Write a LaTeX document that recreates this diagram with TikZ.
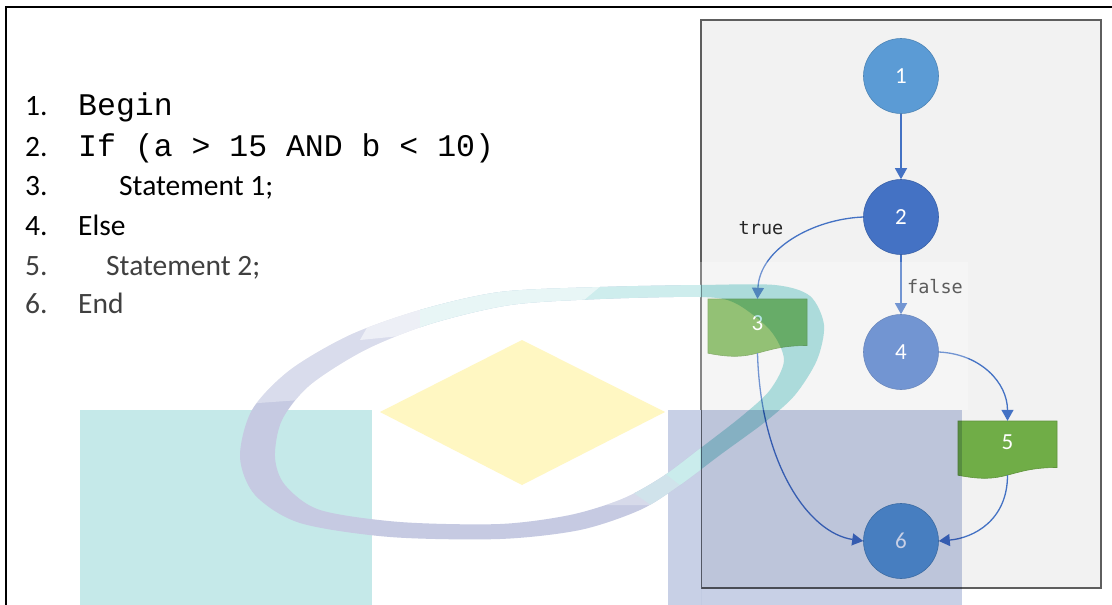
\documentclass[tikz,border=0pt]{standalone}
\usepackage{fontspec}
\setmainfont{Carlito}
\newfontfamily\courfnt{Liberation Mono}
\newfontfamily\codefnt{DejaVu Sans Mono}
\usetikzlibrary{arrows.meta}
\definecolor{flowblue}{HTML}{4472C4}
\definecolor{lightblue}{HTML}{5B9BD5}
\definecolor{docgreen}{HTML}{70AD47}
\definecolor{boxgray}{HTML}{F2F2F2}
\definecolor{boxedge}{HTML}{5E5E5E}
\definecolor{wmteal}{HTML}{C5E9E9}
\definecolor{wmblue}{HTML}{C8D0E6}
\definecolor{wmyellow}{HTML}{FFF7C2}
\definecolor{wmlav}{HTML}{C6CAE2}
\definecolor{wmring}{HTML}{B4E4E4}
\definecolor{txtgray}{HTML}{404040}
\newcommand\lstfnt{\fontsize{29.5}{31}\selectfont}
\newcommand\numfnt{\fontsize{23}{23}\selectfont}
\begin{document}
\begin{tikzpicture}[x=1pt,y=-1pt,
  circ/.style={circle, minimum size=75pt, inner sep=0pt, text=white, font=\numfnt, fill=#1, draw=#1!85!black, line width=0.6pt},
  docbox/.style={rectangle, minimum width=99pt, minimum height=54pt, inner sep=0pt, draw=none},
  doclabel/.style={inner sep=0pt, text=white, font=\numfnt},
  flowarrow/.style={draw=flowblue, line width=1.3pt, -{Triangle[length=11pt,width=12pt]}},
  lst/.style={anchor=base west, inner sep=0pt, font=\lstfnt},
  lstcode/.style={anchor=base west, inner sep=0pt, font=\courfnt\fontsize{31.5}{32}\selectfont},
  edgelabel/.style={inner sep=0pt, font=\codefnt\fontsize{18.5}{20}\selectfont, text=black!85},
  ringpath/.style={insert path={
    plot[smooth cycle] coordinates {(240,457) (252,410) (290,370) (350,335) (420,310) (500,292) (600,287) (700,285) (775,285) (810,296) (824,325) (817,360) (795,395) (765,422) (720,455) (680,485) (640,510) (580,530) (500,539) (390,537) (300,523) (255,495)}
    plot[smooth cycle] coordinates {(275,457) (282,420) (310,385) (365,350) (430,324) (510,305) (600,299) (700,297) (735,303) (770,330) (784,360) (770,390) (742,416) (702,447) (662,477) (622,499) (570,515) (500,524) (400,522) (320,510) (285,485)}
  }}
]
\useasboundingbox (0,0) rectangle (1112,605);
\fill[white] (0,0) rectangle (1112,605);
% outer frame
\draw[line width=2pt] (6,606) -- (6,7) -- (1113,7);

% listing
\node[lst] (n1) at (25,115) {1.};
\node[lstcode] (c1) at (78,115) {Begin};
\node[lst] (n2) at (25,156) {2.};
\node[lstcode] (c2) at (78,156) {If (a > 15 AND b < 10)};
\node[lst] (n3) at (25,195) {3.};
\node[lst] (c3) at (119,195) {Statement 1;};
\node[lst] (n4) at (25,235) {4.};
\node[lst] (c4) at (78,235) {Else};
\node[lst, text=txtgray] (n5) at (25,275) {5.};
\node[lst, text=txtgray] (c5) at (106,275) {Statement 2;};
\node[lst, text=txtgray] (n6) at (25,313) {6.};
\node[lst, text=txtgray] (c6) at (78,313) {End};

% flow box
\draw[fill=boxgray, draw=boxedge, line width=2.5pt] (701,20) rectangle (1101,588);

% document shapes
\fill[docgreen, draw=docgreen!85!black, line width=0.6pt] (708,299) -- (807,299) -- (807,345.5)
  .. controls (757.5,345.5) and (757.5,363.2) .. (708,353.2) -- cycle;
\fill[docgreen, draw=docgreen!85!black, line width=0.6pt] (958,421) -- (1057,421) -- (1057,467.5)
  .. controls (1007.5,467.5) and (1007.5,485.2) .. (958,475.2) -- cycle;
\node[docbox] (s3) at (757.5,326) {};
\node[docbox] (s5) at (1007.5,448) {};
\node[doclabel] (l3) at (757.5,323) {3};
\node[doclabel] (l5) at (1007.5,442) {5};

% circles
\node[circ=lightblue] (v1) at (901,76) {1};
\node[circ=flowblue] (v2) at (901,217) {2};
\node[circ=flowblue] (v4) at (901,352) {4};
\node[circ=lightblue] (v6) at (901,541) {6};

% connectors
\draw[flowarrow] (v1) -- (v2);
\draw[flowarrow] (v2) -- (v4);
\draw[flowarrow] (v2.west) .. controls +(-50,2) and +(2,-50) .. (s3.north);
\draw[flowarrow] (v4.east) .. controls +(42,2) and +(0,-38) .. (s5.north);
\draw[flowarrow] (s3.south) .. controls +(3,110) and +(-55,-8) .. (v6.west);
\draw[flowarrow] (s5.south) .. controls +(0,45) and +(35,-3) .. (v6.east);
\node[edgelabel] (lt) at (761,228) {true};
\node[edgelabel] (lf) at (935,287) {false};

% light overlay of the watermark
\fill[white, opacity=0.25] (668,262) rectangle (968,410);

% watermark, left part (over white)
\begin{scope}
\clip (0,0) rectangle (701,605);
\fill[wmteal] (80,410) rectangle (372,605);
\fill[wmblue] (668,410) rectangle (962,605);
\fill[wmyellow] (380,412) -- (522,340) -- (665,412) -- (522,485) -- cycle;
\fill[wmlav, even odd rule, ringpath];
\begin{scope}[even odd rule]
\path[clip, ringpath];
\fill[wmring] (420,250) -- (870,250) -- (870,400) -- (705,505) -- (660,470) -- (420,335) -- cycle;
\fill[wmlav!50!wmring] (660,470) -- (705,505) -- (680,525) -- (632,492) -- cycle;
\fill[white, opacity=0.35] (230,405) -- (300,400) -- (420,340) -- (700,312) -- (700,270) -- (230,270) -- cycle;
\fill[white, opacity=0.55] (360,340) -- (400,270) -- (620,270) -- (560,320) -- cycle;
\fill[white, opacity=0.3] (560,505) -- (700,505) -- (700,420) -- (640,420) -- cycle;
\end{scope}
\end{scope}
% watermark, right part (multiplied over the flow box)
\begin{scope}[blend mode=multiply]
\clip (701,0) rectangle (1112,605);
\fill[wmblue] (668,410) rectangle (962,605);
\fill[wmring, even odd rule, ringpath];
\end{scope}
\end{tikzpicture}
\end{document}
